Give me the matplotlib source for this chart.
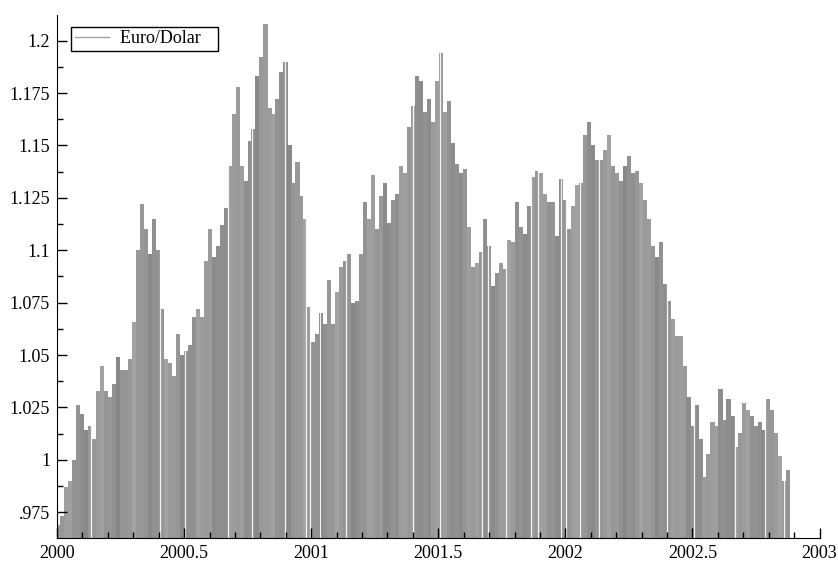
import numpy as np
import matplotlib.pyplot as plt
from matplotlib.lines import Line2D
from matplotlib.ticker import MultipleLocator

plt.rcParams['font.family'] = ['Liberation Serif', 'DejaVu Serif']

# euro per dollar, sampled about every 5.7 days from the start of 2000
start_year = 2000.004
step = 0.0157
euro_dolar = [
    0.969, 0.973, 0.987, 0.990, 1.000, 1.026, 1.022, 1.014, 1.016, 1.010,
    1.033, 1.045, 1.033, 1.030, 1.036, 1.049, 1.043, 1.043, 1.048, 1.066,
    1.100, 1.122, 1.110, 1.098, 1.115, 1.100, 1.072, 1.048, 1.046, 1.040,
    1.060, 1.050,
    1.052, 1.055, 1.068, 1.072, 1.068, 1.095, 1.110, 1.097, 1.102, 1.112,
    1.120, 1.140, 1.165, 1.178, 1.140, 1.133, 1.152, 1.158, 1.183, 1.192,
    1.208, 1.168, 1.165, 1.172, 1.185, 1.190, 1.150, 1.132, 1.142, 1.126,
    1.115,
    1.073, 1.056, 1.060, 1.070, 1.065, 1.086, 1.065, 1.080, 1.092, 1.095,
    1.098, 1.075, 1.076, 1.098, 1.123, 1.115, 1.136, 1.110, 1.126, 1.132,
    1.113, 1.124, 1.127, 1.140, 1.137, 1.159, 1.169, 1.183, 1.181, 1.166,
    1.172,
    1.161, 1.181, 1.194, 1.166, 1.171, 1.151, 1.141, 1.137, 1.139, 1.111,
    1.092, 1.094, 1.099, 1.115, 1.102, 1.083, 1.089, 1.094, 1.091, 1.105,
    1.104, 1.123, 1.111, 1.108, 1.121, 1.135, 1.138, 1.137, 1.127, 1.123,
    1.123,
    1.107, 1.134, 1.124, 1.110, 1.121, 1.131, 1.132, 1.155, 1.161, 1.150,
    1.143, 1.143, 1.148, 1.155, 1.140, 1.137, 1.133, 1.140, 1.145, 1.137,
    1.138, 1.132, 1.124, 1.115, 1.102, 1.097, 1.104, 1.084, 1.076, 1.067,
    1.059,
    1.059, 1.045, 1.030, 1.016, 1.026, 1.010, 0.992, 1.003, 1.018, 1.016,
    1.034, 1.019, 1.029, 1.021, 1.006, 1.013, 1.027, 1.024, 1.021, 1.016,
    1.018, 1.014, 1.029, 1.024, 1.013, 1.002, 0.990, 0.995,
]

# days with no quote (holidays)
holidays = [2000.133, 2000.404, 2000.502, 2000.671, 2000.769, 2000.897,
            2000.979, 2000.996, 2001.035, 2001.136, 2001.400, 2001.505,
            2001.672, 2001.695, 2001.766, 2001.865, 2001.894, 2001.982,
            2002.001, 2002.058, 2002.132, 2002.401, 2002.505, 2002.669,
            2002.786, 2002.862]

xticks = [2000, 2000.5, 2001, 2001.5, 2002, 2002.5, 2003]
xtick_labels = ["2000", "2000.5", "2001", "2001.5", "2002", "2002.5", "2003"]
yticks = [0.975, 1.0, 1.025, 1.05, 1.075, 1.1, 1.125, 1.15, 1.175, 1.2]
ytick_labels = [".975", "1", "1.025", "1.05", "1.075", "1.1", "1.125",
                "1.15", "1.175", "1.2"]

years = start_year + step * np.arange(len(euro_dolar))

fig = plt.figure(figsize=(8.38, 5.61), dpi=100)
ax = fig.add_axes([0.068, 0.041, 0.910, 0.932])

# grey bands along the bars
k = np.arange(len(euro_dolar))
shade = 0.585 + 0.035 * np.sin(2 * np.pi * k / 8.5) + 0.02 * np.cos(2 * np.pi * k / 2.7)
colors = [(g, g, g) for g in shade]
ax.bar(years, euro_dolar, width=step * 1.03, color=colors, linewidth=0, zorder=1)

for h in holidays:
    ax.axvline(h, color='white', lw=0.9, alpha=0.9, zorder=1.2)

ax.set_xlim(2000, 2003)
ax.set_ylim(0.9627, 1.2122)
ax.set_xticks(xticks)
ax.set_xticklabels(xtick_labels)
ax.set_yticks(yticks)
ax.set_yticklabels(ytick_labels)
ax.xaxis.set_minor_locator(MultipleLocator(0.1))
ax.yaxis.set_minor_locator(MultipleLocator(0.0125))
ax.tick_params(which='major', direction='in', length=7, width=1, labelsize=13)
ax.tick_params(which='minor', direction='in', length=4, width=1)
ax.tick_params(axis='x', pad=5)
ax.tick_params(axis='y', pad=5)
ax.spines['top'].set_visible(False)
ax.spines['right'].set_visible(False)

leg = ax.legend(handles=[Line2D([], [], color='#a0a0a0', lw=1)], labels=['Euro/Dolar   '],
                loc='upper left', bbox_to_anchor=(0.019, 0.978), borderaxespad=0,
                fancybox=False, edgecolor='black', framealpha=1, fontsize=13,
                handlelength=1.9, handletextpad=0.6, borderpad=0.2)
leg.get_frame().set_linewidth(1)

plt.savefig('out.png')
